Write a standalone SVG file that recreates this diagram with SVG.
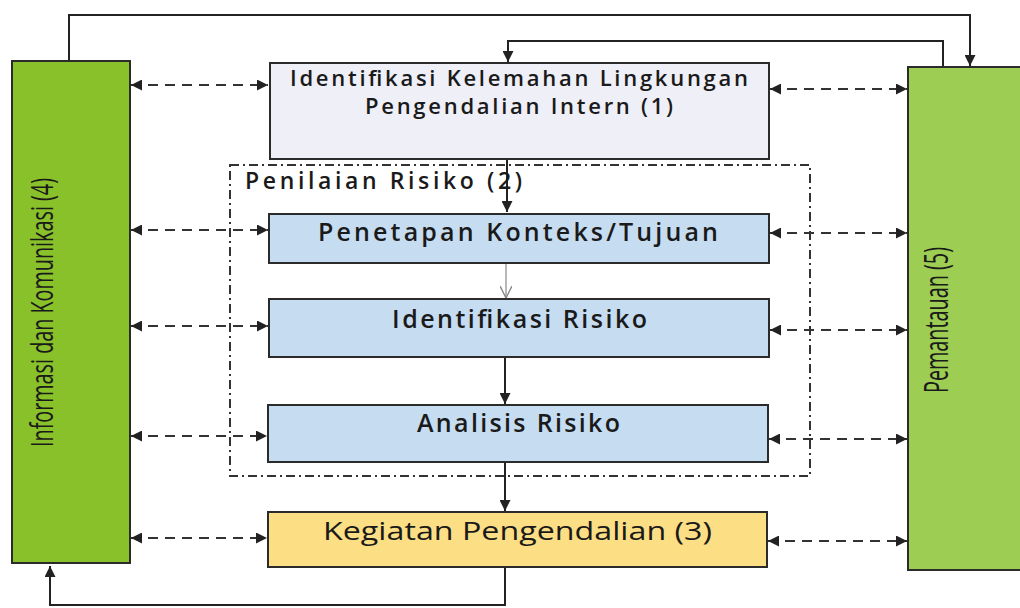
<svg xmlns="http://www.w3.org/2000/svg" width="1020" height="608" viewBox="0 0 1020 608">
<style>
.box{stroke:#2b2b2b;stroke-width:2}
.lbl{font-family:"Open Sans","Liberation Sans",sans-serif;font-weight:600;fill:#1a1a1a}
.vlbl{font-family:"Liberation Sans Narrow","Open Sans","Liberation Sans",sans-serif;font-weight:500;fill:#1a1a1a}
.solid{stroke:#222;stroke-width:2;fill:none}
.dash{stroke:#333;stroke-width:2;fill:none;stroke-dasharray:10 7}
</style>
<defs>
<marker id="ah" viewBox="0 0 10 10" refX="10" refY="5" markerWidth="12" markerHeight="11" markerUnits="userSpaceOnUse" orient="auto-start-reverse">
<path d="M0,0 L10,5 L0,10 Z" fill="#222"/>
</marker>
<marker id="open" viewBox="0 0 10 10" refX="10" refY="5" markerWidth="12" markerHeight="12" markerUnits="userSpaceOnUse" orient="auto">
<path d="M0,0 L10,5 L0,10" fill="none" stroke="#888" stroke-width="1.2"/>
</marker>
</defs>

<g id="connectors">
<path class="solid" d="M69,61 V15 H970 V66" marker-end="url(#ah)"/>
<path class="solid" d="M943,67 V41 H508 V62" marker-end="url(#ah)"/>
<path class="solid" d="M507,159 V212" marker-end="url(#ah)"/>
<path d="M506,264 V298" stroke="#888" stroke-width="1.2" fill="none" marker-end="url(#open)"/>
<path class="solid" d="M505,358 V404" marker-end="url(#ah)"/>
<path class="solid" d="M505,463 V511" marker-end="url(#ah)"/>
<path class="solid" d="M505,568 V605 H50 V566" marker-end="url(#ah)"/>
<path class="dash" d="M131,85 H268" marker-start="url(#ah)" marker-end="url(#ah)"/>
<path class="dash" d="M131,230 H268" marker-start="url(#ah)" marker-end="url(#ah)"/>
<path class="dash" d="M131,326 H268" marker-start="url(#ah)" marker-end="url(#ah)"/>
<path class="dash" d="M131,436 H267" marker-start="url(#ah)" marker-end="url(#ah)"/>
<path class="dash" d="M131,538 H267" marker-start="url(#ah)" marker-end="url(#ah)"/>
<path class="dash" d="M770,89 H907" marker-start="url(#ah)" marker-end="url(#ah)"/>
<path class="dash" d="M770,233 H907" marker-start="url(#ah)" marker-end="url(#ah)"/>
<path class="dash" d="M770,330 H907" marker-start="url(#ah)" marker-end="url(#ah)"/>
<path class="dash" d="M769,439 H907" marker-start="url(#ah)" marker-end="url(#ah)"/>
<path class="dash" d="M768,541 H907" marker-start="url(#ah)" marker-end="url(#ah)"/>
</g>

<g id="penilaian-risiko">
<rect x="230" y="165" width="580" height="311" fill="none" stroke="#333" stroke-width="2" stroke-dasharray="9 4 2 4"/>
<text class="lbl" font-size="23" x="245" y="189" textLength="277">Penilaian Risiko (2)</text>
</g>

<g id="informasi">
<rect class="box" x="12" y="61" width="118" height="502" fill="#89c12b"/>
<text class="vlbl" font-size="31" transform="translate(53,447) rotate(-90)" textLength="269" lengthAdjust="spacingAndGlyphs">Informasi dan Komunikasi (4)</text>
</g>

<g id="pemantauan">
<rect class="box" x="908" y="67" width="115" height="503" fill="#9dcd52"/>
<text class="vlbl" font-size="32" transform="translate(948,393) rotate(-90)" textLength="146" lengthAdjust="spacingAndGlyphs">Pemantauan (5)</text>
</g>

<g id="lingkungan">
<rect class="box" x="270" y="63" width="499" height="96" fill="#efeff8"/>
<text class="lbl" font-size="22" x="290" y="86" textLength="458">Identifikasi Kelemahan Lingkungan</text>
<text class="lbl" font-size="22" x="365" y="114" textLength="308">Pengendalian Intern (1)</text>
</g>

<g id="penetapan">
<rect class="box" x="269" y="214" width="500" height="49" fill="#c6dcf1"/>
<text class="lbl" font-size="25" x="318" y="241" textLength="400">Penetapan Konteks/Tujuan</text>
</g>

<g id="identifikasi-risiko">
<rect class="box" x="269" y="299" width="500" height="58" fill="#c6dcf1"/>
<text class="lbl" font-size="25" x="392" y="328" textLength="255">Identifikasi Risiko</text>
</g>

<g id="analisis-risiko">
<rect class="box" x="268" y="405" width="500" height="57" fill="#c6dcf1"/>
<text class="lbl" font-size="25" x="417" y="432" textLength="203">Analisis Risiko</text>
</g>

<g id="kegiatan">
<rect class="box" x="268" y="512" width="499" height="55" fill="#fcdf84"/>
<text class="vlbl" font-size="25" x="323" y="540" textLength="389" lengthAdjust="spacingAndGlyphs">Kegiatan Pengendalian (3)</text>
</g>
</svg>
